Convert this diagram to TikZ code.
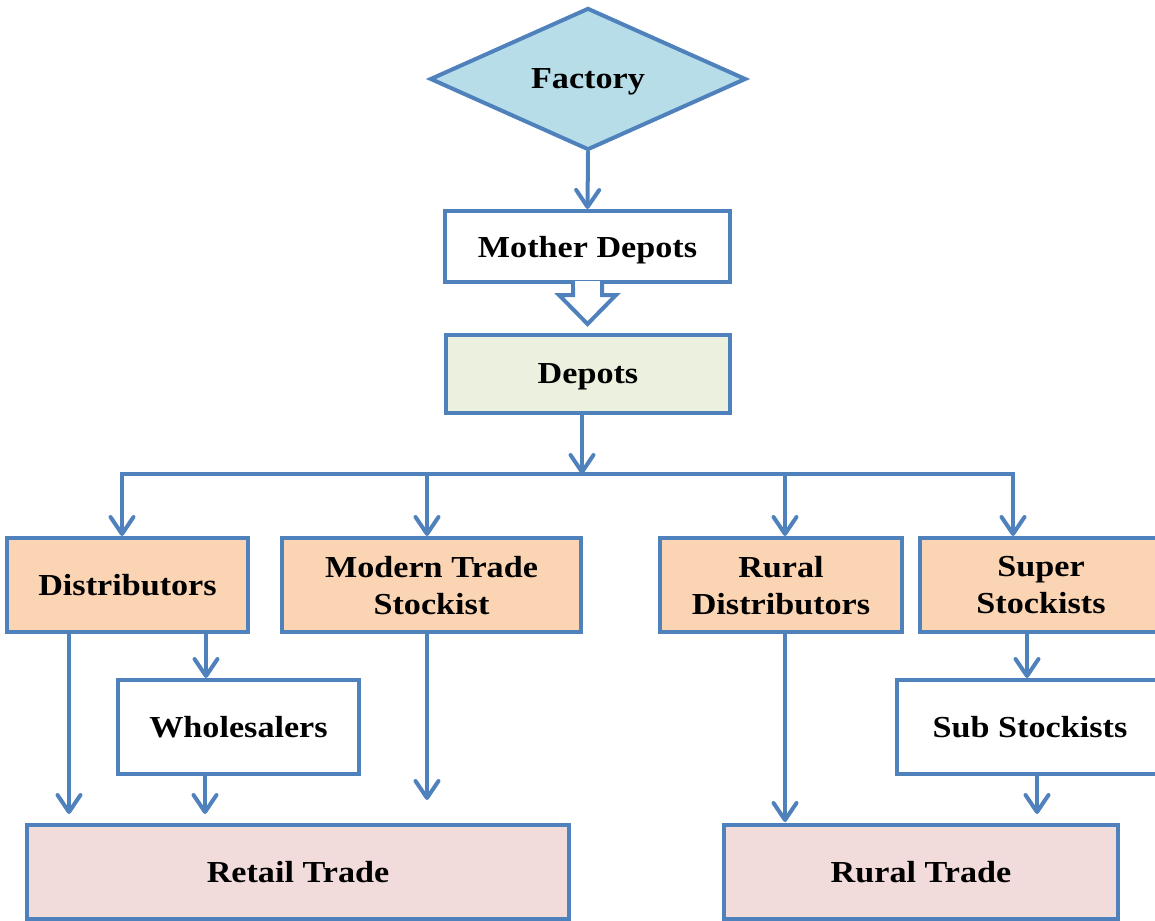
\documentclass[tikz,border=0pt]{standalone}
\usepackage{fontspec}
\setmainfont{Liberation Serif}[FakeStretch=1.12]
\usetikzlibrary{arrows.meta,shapes.geometric}
\definecolor{bl}{HTML}{4F81BD}
\definecolor{dia}{HTML}{B7DEE8}
\definecolor{org}{HTML}{FBD4B4}
\definecolor{grn}{HTML}{EBF1DE}
\definecolor{pnk}{HTML}{F2DCDB}
\begin{document}
\begin{tikzpicture}[x=1pt,y=-1pt,
  lbl/.style={font=\fontsize{30.5}{37}\selectfont\bfseries, align=center, text depth=0pt},
  box/.style={lbl, draw=bl, line width=4pt, rectangle, inner sep=0pt, fill=white},
  tipb/.tip={Straight Barb[length=17pt,width=23pt,line cap=round,line join=round]},
  arr/.style={draw=bl, line width=4pt, line cap=round, -tipb},
  arrs/.style={draw=bl, line width=4pt, line cap=round, line join=miter, tipb-tipb}]
\clip (0,0) rectangle (1155,920);
\fill[white] (0,0) rectangle (1155,920);
% nodes
\node[lbl, draw=bl, fill=dia, line width=4pt, diamond, aspect=2.22, minimum width=316pt, minimum height=142pt, inner sep=0pt] (fac) at (588,79) {Factory};
\node[box, minimum width=285pt, minimum height=71pt] (md) at (587.5,246.5) {Mother Depots};
\node[box, fill=grn, minimum width=284pt, minimum height=78pt] (dep) at (588,374) {Depots};
\node[box, fill=org, minimum width=241pt, minimum height=94pt] (dist) at (127.5,585) {Distributors};
\node[box, fill=org, minimum width=299pt, minimum height=94pt] (mts) at (431.5,585) {Modern Trade\\Stockist};
\node[box, fill=org, minimum width=242pt, minimum height=94pt] (rd) at (781,585) {Rural\\Distributors};
\node[box, fill=org, minimum width=242pt, minimum height=94pt] (ss) at (1041,585) {Super\\Stockists};
\node[box, minimum width=241pt, minimum height=94pt] (wh) at (238.5,727) {Wholesalers};
\node[box, minimum width=266pt, minimum height=94pt] (sub) at (1030,727) {Sub Stockists};
\node[box, fill=pnk, minimum width=542pt, minimum height=94pt] (rt) at (298,872) {Retail Trade};
\node[box, fill=pnk, minimum width=394pt, minimum height=94pt] (rut) at (921,872) {Rural Trade};
% factory -> mother depots
\draw[arr] (fac.south) -- (md.north);
% block arrow mother depots -> depots
\draw[draw=bl, line width=4pt, fill=white, line join=miter]
  ([xshift=-14.5pt,yshift=2pt]md.south) -- ++(0,13) -- ++(-14,0) -- ++(28.5,29) -- ++(28.5,-29) -- ++(-14,0) -- ++(0,-13);
\fill[white] ([xshift=-12.5pt,yshift=3pt]md.south) rectangle ([xshift=12.5pt,yshift=-4pt]md.south);
% bus
\coordinate (bus) at (582,474);
\coordinate (b1) at (122,474);
\coordinate (b2) at (427,474);
\coordinate (b3) at (785,474);
\coordinate (b4) at (1013,474);
\draw[arr] (dep.south -| bus) -- (bus);
\draw[arrs] (dist.north -| b1) -- (b1) -- (b4) -- (ss.north -| b4);
\draw[arr] (b2) -- (mts.north -| b2);
\draw[arr] (b3) -- (rd.north -| b3);
% lower arrows
\coordinate (x1) at (69,814);
\coordinate (x2) at (206,678);
\coordinate (x3) at (205,814);
\coordinate (x4) at (427,800);
\coordinate (x5) at (785,822);
\coordinate (x6) at (1027,678);
\coordinate (x7) at (1037,814);
\draw[arr] (dist.south -| x1) -- (x1);
\draw[arr] (dist.south -| x2) -- (x2);
\draw[arr] (wh.south -| x3) -- (x3);
\draw[arr] (mts.south -| x4) -- (x4);
\draw[arr] (rd.south -| x5) -- (x5);
\draw[arr] (ss.south -| x6) -- (x6);
\draw[arr] (sub.south -| x7) -- (x7);
\end{tikzpicture}
\end{document}
